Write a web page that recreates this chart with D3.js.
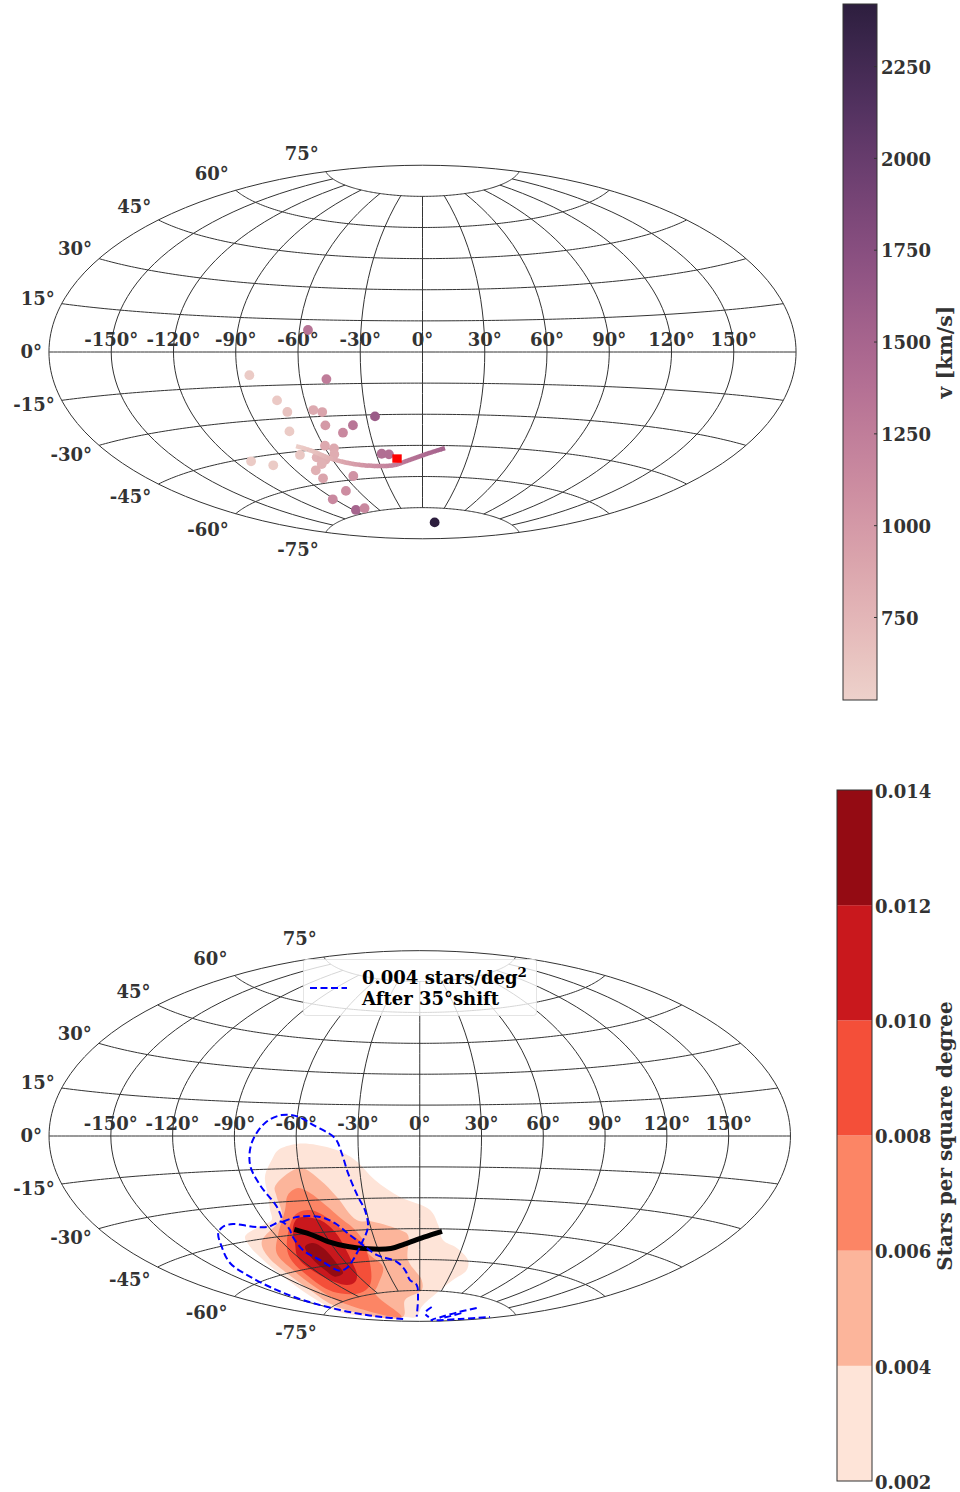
<!DOCTYPE html>
<html>
<head>
<meta charset="utf-8">
<script src="https://cdn.jsdelivr.net/npm/d3@7"></script>
<style>
  body { margin: 0; background: #fff; }
  text { font-family: "DejaVu Serif"; font-weight: bold; font-size: 18px; fill: #333; }
</style>
</head>
<body>
<svg width="960" height="1492"></svg>
<script>
// measured sky positions, degrees
const pointLon = [-84.4,-47.1,-55.8,-73.9,-70.8,-57.0,-52.7,-25.4,-38.4,-53.5,-45.3,-74.7,-59.2,-54.7,-56.6,-78.0,-68.9,-66.2,-64.7,-69.1,-76.7,-110.8,-100.4,-77.4,-53.7,-26.4,-21.8,-70.6,-91.7,-87.2,-74.7,29.0];
const pointLat = [-10.2,-12.7,10.2,-21.8,-27.2,-26.9,-28.0,-30.8,-34.7,-34.2,-38.0,-35.9,-43.5,-45.0,-47.7,-46.6,-48.4,-49.0,-49.9,-51.6,-54.0,-46.4,-49.4,-57.8,-58.3,-48.7,-49.1,-64.5,-67.0,-73.0,-73.0,-81.9];
const pointV = [570,1260,1350,590,640,850,900,1600,1330,1000,1150,570,860,860,830,600,780,800,800,780,800,570,570,900,1050,1400,1400,1100,1150,1500,1150,2419];
const redPoint = [-17.1,-51.2];

const trackLon = [-76.3,-68.9,-60.9,-50.0,-37.2,-20.7,-10.5,2.7,14.0];
const trackLat = [-42.6,-45.4,-49.4,-52.4,-54.1,-54.4,-52.4,-49.1,-46.2];
const trackV = [550,650,800,950,1100,1250,1350,1450,1520];

const vTicks = [750,1000,1250,1500,1750,2000,2250];
const vDomain = [524,2419];

const levels = [0.002,0.004,0.006,0.008,0.010,0.012,0.014];
const levelColors = ['#fee4d8','#fcb59b','#fc8565','#f44f39','#c9181d','#940b13'];

// filled density contours, one per level
const level1 = [[-69.0,-6.4],[-59.8,-3.7],[-50.1,-4.2],[-40.5,-6.7],[-31.9,-11.5],[-22.8,-21.2],[-10.5,-29.6],[5.8,-35.9],[11.2,-43.2],[15.5,-50.4],[26.3,-54.0],[38.5,-59.5],[42.5,-64.2],[35.7,-69.4],[25.0,-76.0],[5.2,-82.9],[-24.2,-87.7],[-105.3,-86.7],[-160.7,-77.6],[-138.2,-71.4],[-122.6,-63.1],[-115.6,-54.5],[-112.1,-47.3],[-108.5,-43.1],[-97.2,-40.2],[-85.4,-37.6],[-82.8,-33.2],[-80.1,-27.3],[-78.0,-18.3],[-72.8,-10.9]];
const level2 = [[-59.5,-14.9],[-50.7,-20.7],[-44.2,-28.8],[-37.0,-40.2],[-27.7,-41.3],[-12.3,-45.6],[-7.6,-48.0],[-9.5,-60.2],[2.1,-69.9],[2.7,-74.8],[-27.8,-79.4],[-101.5,-86.6],[-141.7,-75.6],[-121.6,-67.8],[-113.3,-59.8],[-109.0,-52.3],[-101.9,-46.1],[-78.6,-36.5],[-75.7,-27.5],[-74.6,-23.0]];
const level3 = [[-63.0,-24.1],[-57.6,-26.6],[-52.5,-31.5],[-44.9,-39.9],[-41.2,-43.4],[-37.7,-49.8],[-38.4,-56.1],[-32.1,-63.1],[-49.0,-71.3],[-62.9,-74.7],[-106.1,-86.4],[-123.9,-75.4],[-112.7,-67.8],[-105.4,-59.3],[-100.6,-51.5],[-88.5,-44.3],[-74.7,-33.7],[-69.5,-27.0]];
const level4 = [[-61.1,-34.4],[-55.1,-37.1],[-48.7,-43.6],[-39.4,-51.2],[-41.1,-60.8],[-57.7,-70.9],[-80.7,-73.6],[-105.6,-70.7],[-101.4,-62.3],[-96.0,-54.4],[-87.6,-48.1],[-70.7,-36.2]];
const level5 = [[-70.0,-37.7],[-58.1,-39.3],[-52.9,-45.3],[-52.5,-53.0],[-54.7,-59.7],[-60.2,-65.8],[-69.3,-68.7],[-81.0,-69.4],[-91.2,-63.3],[-90.7,-55.0],[-82.5,-48.5],[-76.5,-41.9]];
const level6 = [[-78.3,-50.6],[-71.2,-49.4],[-67.3,-52.1],[-67.6,-60.3],[-70.4,-64.1],[-81.0,-65.1],[-82.0,-61.7],[-81.4,-55.8]];

// 0.004 contour after the 35 degree shift
const shift1 = [[-136.3,-87.2],[-149.5,-83.8],[-151.4,-81.3],[-150.9,-76.7],[-148.1,-69.7],[-145.1,-64.0],[-141.5,-57.4],[-137.7,-51.3],[-128.4,-45.2],[-121.2,-40.0],[-115.2,-37.9],[-108.4,-37.4],[-98.7,-39.5],[-90.2,-40.3],[-80.4,-38.7],[-79.1,-42.7],[-80.3,-44.9],[-81.7,-51.9],[-77.1,-57.2],[-70.8,-62.9],[-63.0,-62.1],[-52.8,-58.8],[-39.4,-51.2],[-31.6,-43.7],[-30.7,-35.6],[-32.9,-29.1],[-36.0,-17.7],[-38.2,-8.1],[-41.2,-1.0],[-52.0,5.2],[-59.6,9.0],[-67.7,9.6],[-75.4,5.9],[-81.7,-3.1],[-83.9,-12.9],[-81.9,-21.9],[-78.2,-32.0],[-79.7,-38.8]];
const shift2 = [[-79.7,-38.8],[-70.4,-37.2],[-57.3,-37.9],[-50.4,-41.2],[-44.6,-47.1],[-39.2,-52.2],[-32.7,-57.2],[-18.9,-60.9],[-13.5,-65.0],[-10.6,-69.9],[-3.7,-72.3],[-2.9,-78.0],[-24.2,-87.7]];
const shift3 = [[32.1,-82.8],[23.7,-85.9],[70.1,-87.5]];
const shift4 = [[120.4,-79.2],[115.2,-82.3],[119.4,-86.1],[141.2,-88.1],[168.9,-83.7],[175.0,-79.0]];
const shift5 = [[126,-82.5],[130,-84.5],[135,-86.5]];

const lonTicks = d3.range(-150,151,30);
const latTicks = d3.range(-75,76,15);

const svg = d3.select('svg');

// matplotlib's aitoff
function aitoffRaw(l, p) {
  const c = Math.cos(p), a = Math.acos(c * Math.cos(l / 2));
  const s = a < 1e-9 ? 1 : Math.sin(a) / a;
  return [2 * c * Math.sin(l / 2) / s, Math.sin(p) / s];
}

// seaborn's default cubehelix palette, light to dark
function cubehelix(t) {
  const x = 0.85 + (0.15 - 0.85) * t;
  const phi = 2 * Math.PI * 0.4 * x, a = 0.8 * x * (1 - x) / 2;
  const r = x + a * (-0.14861 * Math.cos(phi) + 1.78277 * Math.sin(phi));
  const g = x + a * (-0.29227 * Math.cos(phi) - 0.90649 * Math.sin(phi));
  const b = x + a * (1.97294 * Math.cos(phi));
  return d3.rgb(r * 255, g * 255, b * 255).formatHex();
}
const vColor = d3.scaleSequential(cubehelix).domain(vDomain);

function drawGrid(g, path) {
  const grid = g.append('g').attr('fill', 'none').attr('stroke', '#333').attr('stroke-width', 1);
  lonTicks.forEach(lon => grid.append('path')
    .attr('d', path({type: 'LineString', coordinates: d3.range(-75, 75.1, 5).map(lat => [lon, lat])})));
  latTicks.forEach(lat => grid.append('path')
    .attr('d', path({type: 'LineString', coordinates: d3.range(-179.9, 180, 2).concat(179.9).map(lon => [lon, lat])})));
  grid.append('path').attr('d', path({type: 'Sphere'}));
}

function drawLabels(g, projection, cy) {
  g.selectAll('.lon').data(lonTicks).enter().append('text')
    .attr('text-anchor', 'middle').attr('dominant-baseline', 'central')
    .attr('x', d => projection([d, 0])[0]).attr('y', cy - 13)
    .text(d => d + '°');
  // y labels sit on a 1.1 stretched copy of the projection, 7px left of the edge
  g.selectAll('.lat').data(latTicks).enter().append('text')
    .attr('text-anchor', 'end').attr('dominant-baseline', 'central')
    .attr('x', d => projection([-179.99, d])[0] - 7)
    .attr('y', d => cy - 1.1 * (cy - projection([-179.99, d])[1]) - 0.5)
    .text(d => d + '°');
}

function makeProjection(cx, cy, k) {
  return d3.geoProjection(aitoffRaw).scale(k).translate([cx, cy]).precision(0.1);
}

// top panel
const top1 = svg.append('g');
const proj1 = makeProjection(422.5, 352, 118.9);
drawGrid(top1, d3.geoPath(proj1));
drawLabels(top1, proj1, 352);

top1.selectAll('circle').data(pointV).enter().append('circle')
  .attr('cx', (d, i) => proj1([pointLon[i], pointLat[i]])[0])
  .attr('cy', (d, i) => proj1([pointLon[i], pointLat[i]])[1])
  .attr('r', 4.9)
  .attr('fill', d => vColor(d));

// track is one smooth curve, cut into short pieces so the colour can follow v
const trackXY = trackLon.map((d, i) => proj1([d, trackLat[i]]));
const trackPath = top1.append('path')
  .attr('d', d3.line().curve(d3.curveCatmullRom.alpha(0.5))(trackXY))
  .attr('fill', 'none');
let run = 0;
const trackLen = trackXY.map((d, i) => i ? (run += Math.hypot(d[0] - trackXY[i - 1][0], d[1] - trackXY[i - 1][1])) : 0);
const lenToV = d3.scaleLinear().domain(trackLen).range(trackV);
const totalLen = trackPath.node().getTotalLength();
d3.range(0, totalLen, 3).forEach(s => {
  const p = trackPath.node().getPointAtLength(s);
  const q = trackPath.node().getPointAtLength(Math.min(s + 3.5, totalLen));
  top1.append('line')
    .attr('x1', p.x).attr('y1', p.y).attr('x2', q.x).attr('y2', q.y)
    .attr('stroke', vColor(lenToV(s * run / totalLen)))
    .attr('stroke-width', 4.5);
});
trackPath.remove();

const red = proj1(redPoint);
top1.append('rect').attr('x', red[0] - 4.7).attr('y', red[1] - 4.2)
  .attr('width', 9.4).attr('height', 8.4).attr('fill', '#ff0000');

// v colorbar
const vScale = d3.scaleLinear().domain(vDomain).range([700, 4]);
const bar1 = svg.append('g');
const grad = svg.append('defs').append('linearGradient').attr('id', 'vGrad')
  .attr('x1', 0).attr('x2', 0).attr('y1', 1).attr('y2', 0);
grad.selectAll('stop').data(d3.range(0, 1.001, 0.05)).enter().append('stop')
  .attr('offset', d => d).attr('stop-color', d => cubehelix(d));
bar1.append('rect').attr('x', 843).attr('y', 4).attr('width', 34).attr('height', 696)
  .attr('fill', 'url(#vGrad)').attr('stroke', '#333').attr('stroke-width', 1);
const axis1 = bar1.append('g').attr('transform', 'translate(877,0)')
  .call(d3.axisRight(vScale).tickValues(vTicks).tickFormat(d3.format('d')).tickSize(-3).tickPadding(4));
axis1.select('.domain').remove();
axis1.selectAll('line').attr('stroke', '#333');
axis1.selectAll('text').attr('y', 1.5).style('fill', '#333').style('font-size', '18px');
svg.append('text').attr('transform', 'translate(945,352) rotate(-90)')
  .attr('text-anchor', 'middle').attr('dominant-baseline', 'central').style('font-size', '20.4px').text('v [km/s]');

// bottom panel
const top2 = svg.append('g');
const proj2 = makeProjection(419.75, 1136, 118);
const closed2 = d3.line().x(d => proj2(d)[0]).y(d => proj2(d)[1]).curve(d3.curveCatmullRomClosed.alpha(0.5));
const open2 = d3.line().x(d => proj2(d)[0]).y(d => proj2(d)[1]).curve(d3.curveCatmullRom.alpha(0.5));

[level1, level2, level3, level4, level5, level6].forEach((c, i) => {
  top2.append('path').attr('d', closed2(c)).attr('fill', levelColors[i]);
});
drawGrid(top2, d3.geoPath(proj2));
drawLabels(top2, proj2, 1136);

top2.append('path').attr('d', open2(trackLon.map((d, i) => [d, trackLat[i]])))
  .attr('fill', 'none').attr('stroke', '#000').attr('stroke-width', 5);

[shift1, shift2, shift3, shift4, shift5].forEach(c => {
  top2.append('path').attr('d', open2(c))
    .attr('fill', 'none').attr('stroke', '#0000ff').attr('stroke-width', 2).attr('stroke-dasharray', '7,3.5');
});

// legend
const legend = svg.append('g');
legend.append('rect').attr('x', 303.5).attr('y', 959.5).attr('width', 233).attr('height', 56).attr('rx', 3)
  .attr('fill', '#fff').attr('fill-opacity', 0.8).attr('stroke', '#ddd').attr('stroke-opacity', 0.8);
legend.append('line').attr('x1', 310).attr('x2', 347).attr('y1', 988).attr('y2', 988)
  .attr('stroke', '#0000ff').attr('stroke-width', 2).attr('stroke-dasharray', '7,3.5');
const legend1 = legend.append('text').attr('x', 362).attr('y', 984).style('fill', '#000').text('0.004 stars/deg');
legend1.append('tspan').attr('dy', -7).style('font-size', '13.5px').text('2');
legend.append('text').attr('x', 362).attr('y', 1005).style('fill', '#000').text('After 35°shift');

// density colorbar
const levelScale = d3.scaleLinear().domain([0.002, 0.014]).range([1481, 790]);
const bar2 = svg.append('g');
bar2.selectAll('rect').data(levelColors).enter().append('rect')
  .attr('x', 837).attr('width', 35)
  .attr('y', (d, i) => levelScale(levels[i + 1]))
  .attr('height', (d, i) => levelScale(levels[i]) - levelScale(levels[i + 1]))
  .attr('fill', d => d);
bar2.append('rect').attr('x', 837).attr('y', 790).attr('width', 35).attr('height', 691)
  .attr('fill', 'none').attr('stroke', '#333').attr('stroke-width', 1);
const axis2 = bar2.append('g').attr('transform', 'translate(872,0)')
  .call(d3.axisRight(levelScale).tickValues(levels).tickFormat(d3.format('.3f')).tickSize(0).tickPadding(3));
axis2.select('.domain').remove();
axis2.selectAll('text').attr('y', 1.5).style('fill', '#333').style('font-size', '18px');
svg.append('text').attr('transform', 'translate(945,1136) rotate(-90)')
  .attr('text-anchor', 'middle').attr('dominant-baseline', 'central').style('font-size', '20px').text('Stars per square degree');
</script>
</body>
</html>
